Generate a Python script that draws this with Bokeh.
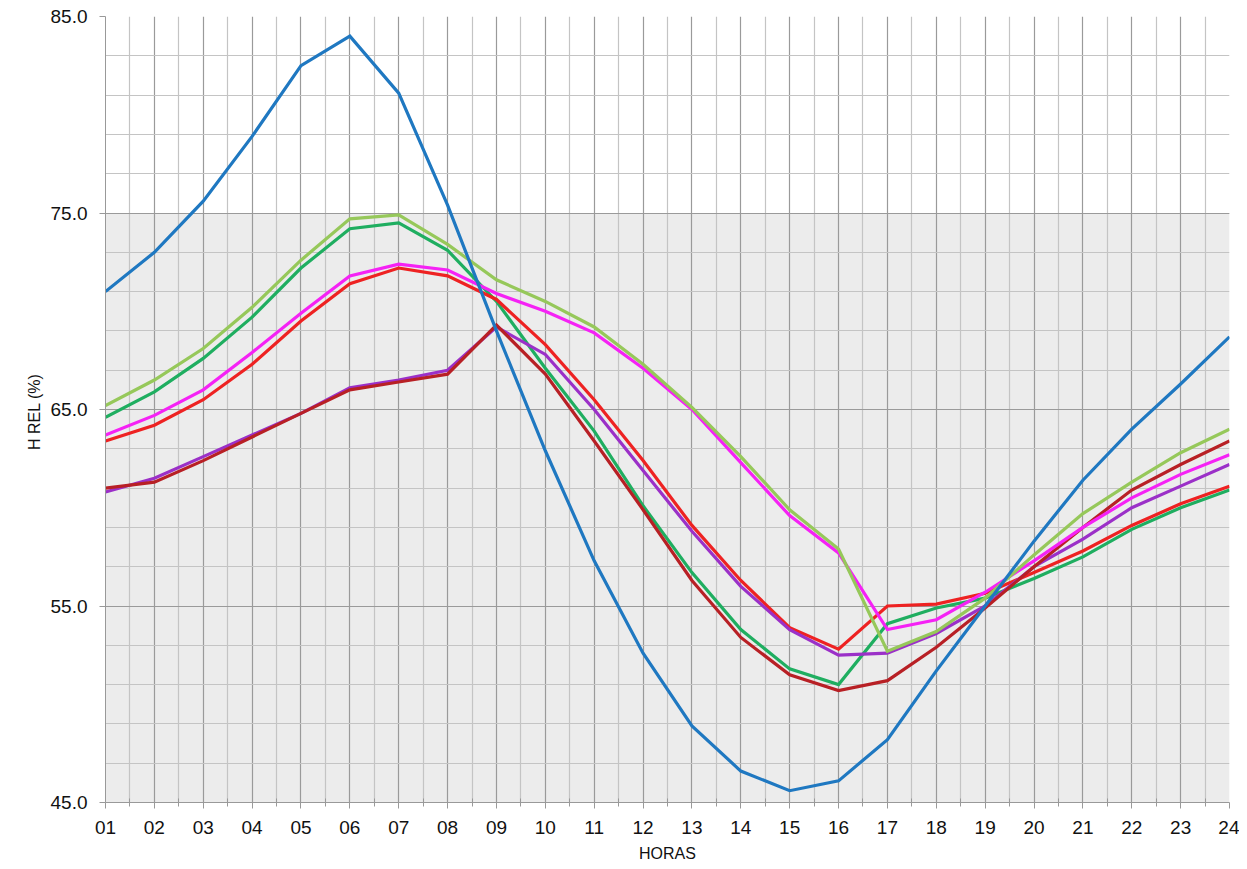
from bokeh.plotting import figure
from bokeh.models import FixedTicker, BoxAnnotation, PrintfTickFormatter, ColumnDataSource
from bokeh.embed import file_html
from bokeh.resources import INLINE

hours = list(range(1, 25))
hour_labels = ["%02d" % h for h in hours]

serie_azul = [71.0, 73.0, 75.6, 78.9, 82.5, 84.0, 81.1, 75.4, 69.0, 62.9, 57.3, 52.6,
              48.9, 46.6, 45.6, 46.1, 48.2, 51.7, 55.0, 58.3, 61.4, 64.0, 66.3, 68.7]
serie_verde_claro = [65.2, 66.5, 68.1, 70.2, 72.6, 74.7, 74.9, 73.4, 71.6, 70.5, 69.2, 67.3,
                     65.1, 62.6, 59.9, 57.9, 52.7, 53.7, 55.4, 57.6, 59.7, 61.3, 62.8, 64.0]
serie_verde = [64.6, 65.9, 67.6, 69.7, 72.2, 74.2, 74.5, 73.1, 70.5, 67.1, 63.9, 60.1,
               56.7, 53.8, 51.8, 51.0, 54.1, 54.9, 55.4, 56.4, 57.5, 58.9, 60.0, 60.9]
serie_magenta = [63.7, 64.7, 66.0, 67.9, 69.9, 71.8, 72.4, 72.1, 70.9, 70.0, 68.9, 67.1,
                 65.0, 62.3, 59.6, 57.7, 53.8, 54.3, 55.7, 57.3, 59.0, 60.5, 61.7, 62.7]
serie_roja = [63.4, 64.2, 65.5, 67.3, 69.5, 71.4, 72.2, 71.8, 70.6, 68.3, 65.5, 62.4,
              59.1, 56.3, 53.9, 52.8, 55.0, 55.1, 55.65, 56.7, 57.8, 59.1, 60.2, 61.1]
serie_morada = [60.8, 61.5, 62.6, 63.7, 64.8, 66.1, 66.5, 67.0, 69.2, 67.8, 65.0, 61.9,
                58.8, 56.0, 53.8, 52.5, 52.6, 53.6, 55.0, 57.0, 58.4, 60.0, 61.1, 62.2]
serie_granate = [61.0, 61.3, 62.4, 63.6, 64.8, 66.0, 66.4, 66.8, 69.3, 66.8, 63.4, 59.9,
                 56.3, 53.4, 51.5, 50.7, 51.2, 52.9, 54.9, 57.0, 59.0, 60.9, 62.2, 63.4]

y_major = [45, 55, 65, 75, 85]
y_minor = list(range(45, 86, 2))
x_minor = [h + 0.5 for h in range(1, 24)]

FONT = "Liberation Sans"

p = figure(width=1239, height=869, output_backend="svg", toolbar_location=None,
           x_range=(1, 24), y_range=(45, 85),
           min_border_left=105, min_border_right=10, min_border_top=16, min_border_bottom=67)
p.outline_line_color = None
p.background_fill_color = "white"
p.border_fill_color = "white"

band = BoxAnnotation(bottom=45, top=75, fill_color="#ececec", fill_alpha=1.0,
                     line_color=None, level="image")
p.add_layout(band)

# x axis
p.xaxis.ticker = FixedTicker(ticks=hours, minor_ticks=x_minor)
p.xaxis.major_label_overrides = {h: l for h, l in zip(hours, hour_labels)}
p.xaxis.axis_label = "HORAS"
p.xaxis.axis_line_color = "#999999"
p.xaxis.major_tick_line_color = "#999999"
p.xaxis.minor_tick_line_color = "#999999"
p.xaxis.major_tick_in = 0
p.xaxis.major_tick_out = 6
p.xaxis.minor_tick_in = 4
p.xaxis.minor_tick_out = 4
p.xaxis.major_label_text_font = FONT
p.xaxis.major_label_text_font_size = "19px"
p.xaxis.major_label_text_color = "#111111"
p.xaxis.major_label_standoff = 12
p.xaxis.axis_label_text_font = FONT
p.xaxis.axis_label_text_font_size = "16px"
p.xaxis.axis_label_text_font_style = "normal"
p.xaxis.axis_label_text_color = "#111111"
p.xaxis.axis_label_standoff = 8

# y axis
p.yaxis.ticker = FixedTicker(ticks=y_major, minor_ticks=y_minor)
p.yaxis.formatter = PrintfTickFormatter(format="%.1f")
p.yaxis.axis_label = "H REL  (%)"
p.yaxis.axis_line_color = "#999999"
p.yaxis.major_tick_line_color = "#999999"
p.yaxis.minor_tick_line_color = None
p.yaxis.major_tick_in = 0
p.yaxis.major_tick_out = 6
p.yaxis.major_label_text_font = FONT
p.yaxis.major_label_text_font_size = "19px"
p.yaxis.major_label_text_color = "#111111"
p.yaxis.major_label_standoff = 12
p.yaxis.axis_label_text_font = FONT
p.yaxis.axis_label_text_font_size = "16px"
p.yaxis.axis_label_text_font_style = "normal"
p.yaxis.axis_label_text_color = "#111111"
p.yaxis.axis_label_standoff = 5

# grids
p.xgrid.grid_line_color = "#9a9a9a"
p.xgrid.grid_line_width = 1.2
p.xgrid.minor_grid_line_color = "#c4c4c4"
p.xgrid.minor_grid_line_width = 1.2
p.ygrid.grid_line_color = "#9a9a9a"
p.ygrid.grid_line_width = 1.2
p.ygrid.minor_grid_line_color = "#c4c4c4"
p.ygrid.minor_grid_line_width = 1.2

series = [
    (serie_verde, "#1fae60"),
    (serie_roja, "#ee2222"),
    (serie_morada, "#9b30c8"),
    (serie_granate, "#b82025"),
    (serie_magenta, "#f522f5"),
    (serie_verde_claro, "#96c85a"),
    (serie_azul, "#1f78c1"),
]
for vals, col in series:
    src = ColumnDataSource(dict(x=hours, y=vals))
    p.line("x", "y", source=src, line_color=col, line_width=3.2, line_join="miter")

open("out.html", "w").write(file_html(p, INLINE))
